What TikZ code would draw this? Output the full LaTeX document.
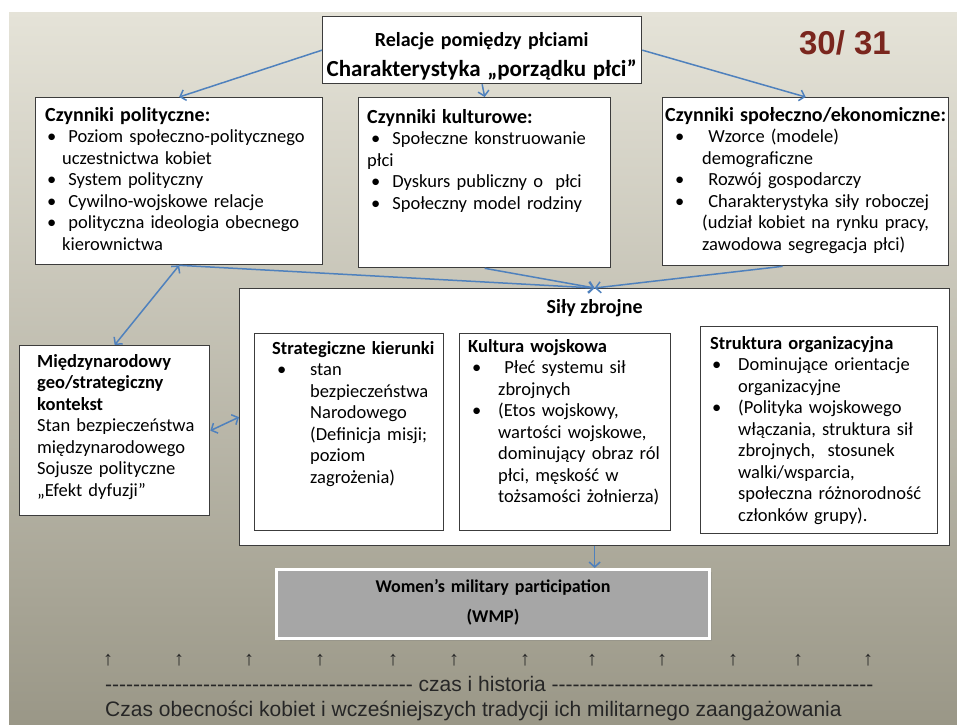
\documentclass[tikz,border=0pt]{standalone}
\usepackage{fontspec}
\setmainfont{Carlito}
\newfontfamily\arialfont[Ligatures=TeXOff]{Liberation Sans}
\usetikzlibrary{positioning,arrows.meta,shadows}

\definecolor{slidetop}{RGB}{229,227,216}
\definecolor{slidebot}{RGB}{154,151,135}
\definecolor{linkblue}{RGB}{79,129,189}
\definecolor{boxline}{RGB}{60,60,60}
\definecolor{wmpgray}{RGB}{166,166,166}
\definecolor{pagenum}{RGB}{122,38,30}

\hyphenpenalty=10000
\exhyphenpenalty=10000

% bullet item with hanging indent
\newlength{\bulx}
\newlength{\hangx}
\newcommand{\itm}[1]{\par\hangindent=\hangx\hangafter=1\noindent\hbox to\hangx{\hspace{\bulx}\textbullet\hfil}#1}
% headings of the factor boxes
\newcommand{\bighd}[1]{{\bfseries\fontsize{20}{21.5}\selectfont #1}}

\begin{document}
\begin{tikzpicture}[x=1pt,y=-1pt,
  >={Straight Barb[length=5pt,width=11pt]},
  panel/.style={draw=boxline, fill=white, line width=1.3pt, anchor=north west, inner sep=0pt},
  subpanel/.style={panel, line width=1pt},
  txt/.style={anchor=base west, inner sep=0pt, align=left, font=\fontsize{18.5}{21.5}\selectfont},
  link/.style={draw=linkblue, line width=1.5pt, ->},
  twoway/.style={link, <->},
  uparr/.style={font=\arialfont\fontsize{20}{20}\selectfont, text=black!85, inner sep=0pt},
  bottomtxt/.style={anchor=base west, inner sep=0pt, font=\arialfont\fontsize{21}{21}\selectfont, text=black!85}]
  \useasboundingbox (0,0) rectangle (957,724);
  \fill[white] (0,0) rectangle (957,724);
  \shade[top color=slidetop, bottom color=slidebot] (9,12) rectangle (957,724);

  % top
  \node[panel, minimum width=319pt, minimum height=67pt] (order) at (322,16) {};
  \node[txt, text width=319pt, align=center, font=\bfseries\fontsize{20}{30}\selectfont] (order-t) at ([yshift=-30pt]order.north west) {Relacje pomiędzy płciami\hspace*{14pt}\\{\fontsize{23}{30}\selectfont Charakterystyka „porządku płci”}\par};
  \node[font=\arialfont\bfseries\fontsize{33}{33}\selectfont, text=pagenum, inner sep=0pt] (page) at (845,43) {30/ 31};

  % factors
  \node[panel, minimum width=287pt, minimum height=167pt] (polit) at (35,97) {};
  \node[txt, text width=300pt] (polit-t) at ([xshift=10pt,yshift=-24pt]polit.north west) {\setlength{\bulx}{2pt}\setlength{\hangx}{17pt}%
    \bighd{Czynniki polityczne:}
    \itm{\ Poziom społeczno-politycznego\break uczestnictwa kobiet}
    \itm{\ System polityczny}
    \itm{\ Cywilno-wojskowe relacje}
    \itm{\ polityczna ideologia obecnego\break kierownictwa}\par};

  \node[panel, minimum width=252pt, minimum height=170pt] (kult) at (358,97) {};
  \node[txt, text width=260pt] (kult-t) at ([xshift=9pt,yshift=-26pt]kult.north west) {\setlength{\bulx}{4pt}\setlength{\hangx}{19pt}%
    \bighd{Czynniki kulturowe:}
    \itm{\ Społeczne konstruowanie}\par\noindent płci
    \itm{\ Dyskurs publiczny o\ \ płci}
    \itm{\ Społeczny model rodziny}\par};

  \node[panel, minimum width=286pt, minimum height=168pt] (socio) at (662,97) {};
  \node[txt, text width=300pt] (socio-t) at ([xshift=3pt,yshift=-24pt]socio.north west) {\setlength{\bulx}{10pt}\setlength{\hangx}{37pt}%
    \bighd{Czynniki społeczno/ekonomiczne:}
    \itm{\ Wzorce (modele)\break demograficzne}
    \itm{\ Rozwój gospodarczy}
    \itm{\ Charakterystyka siły roboczej\break (udział kobiet na rynku pracy,\break zawodowa segregacja płci)}\par};

  % armed forces
  \node[panel, minimum width=710pt, minimum height=257pt] (forces) at (239,288) {};
  \node[anchor=base, inner sep=0pt, font=\bfseries\fontsize{20}{24}\selectfont] (forces-t) at ([yshift=-25pt]forces.north) {Siły zbrojne};

  \node[subpanel, minimum width=189pt, minimum height=197pt] (strat) at (254,333) {};
  \node[txt, text width=200pt] (strat-t) at ([xshift=18pt,yshift=-21pt]strat.north west) {\setlength{\bulx}{5pt}\setlength{\hangx}{38pt}%
    \textbf{Strategiczne kierunki}
    \itm{stan\break bezpieczeństwa\break Narodowego\break (Definicja misji;\break poziom\break zagrożenia)}\par};

  \node[subpanel, minimum width=211pt, minimum height=197pt] (cult) at (459,333) {};
  \node[txt, text width=220pt] (cult-t) at ([xshift=9pt,yshift=-19pt]cult.north west) {\setlength{\bulx}{4pt}\setlength{\hangx}{30pt}%
    \textbf{Kultura wojskowa}
    \itm{\ Płeć systemu sił\break zbrojnych}
    \itm{(Etos wojskowy,\break wartości wojskowe,\break dominujący obraz ról\break płci, męskość w\break tożsamości żołnierza)}\par};

  \node[subpanel, minimum width=237pt, minimum height=207pt] (struct) at (700,326) {};
  \node[txt, text width=250pt] (struct-t) at ([xshift=10pt,yshift=-23pt]struct.north west) {\setlength{\bulx}{2pt}\setlength{\hangx}{28pt}%
    \textbf{Struktura organizacyjna}
    \itm{Dominujące orientacje\break organizacyjne}
    \itm{(Polityka wojskowego\break włączania, struktura sił\break zbrojnych,\ \ stosunek\break walki/wsparcia,\break społeczna różnorodność\break członków grupy).}\par};

  % international context
  \node[panel, minimum width=190pt, minimum height=170pt] (intl) at (19,345) {};
  \node[txt, text width=200pt] (intl-t) at ([xshift=18pt,yshift=-22pt]intl.north west) {%
    \textbf{Międzynarodowy\break geo/strategiczny\break kontekst}\par
    Stan bezpieczeństwa\par
    międzynarodowego\par
    Sojusze polityczne\par
    „Efekt dyfuzji”\par};

  % WMP
  \node[draw=white, line width=3pt, fill=wmpgray, anchor=north west, inner sep=0pt, minimum width=433pt, minimum height=69pt,
        drop shadow={shadow xshift=2pt, shadow yshift=-2pt, opacity=0.3}] (wmp) at (275,568) {};
  \node[txt, anchor=base, text width=433pt, align=center, font=\bfseries\fontsize{18}{30}\selectfont] (wmp-t) at ([yshift=-24pt]wmp.north) {Women’s military participation\\(WMP)\par};

  % connectors
  \draw[link] (order.west) -- (polit.north);
  \draw[link] (order.south) -- (kult.north);
  \draw[link] (order.east) -- (socio.north);
  \draw[twoway] (polit.south) -- (intl.north);
  \draw[link] (polit.south) -- (forces.north);
  \draw[link] (kult.south) -- (forces.north);
  \draw[link] ([xshift=-23pt]socio.south) -- (forces.north);
  \draw[twoway] (intl.east) -- (forces.west);
  \draw[link] (forces.south) -- (forces.south |- wmp.north);

  % time line
  \foreach \x [count=\i] in {108,179,249,320,393,454,525,592,662,733,798,868}
    \node[uparr] (up\i) at (\x,660) {↑};
  \node[bottomtxt] (timeline) at (105,691)
    {-------------------------------------------- czas i historia ----------------------------------------------};
  \node[bottomtxt] (caption) at (105,716)
    {Czas obecności kobiet i wcześniejszych tradycji ich militarnego zaangażowania};
\end{tikzpicture}
\end{document}
